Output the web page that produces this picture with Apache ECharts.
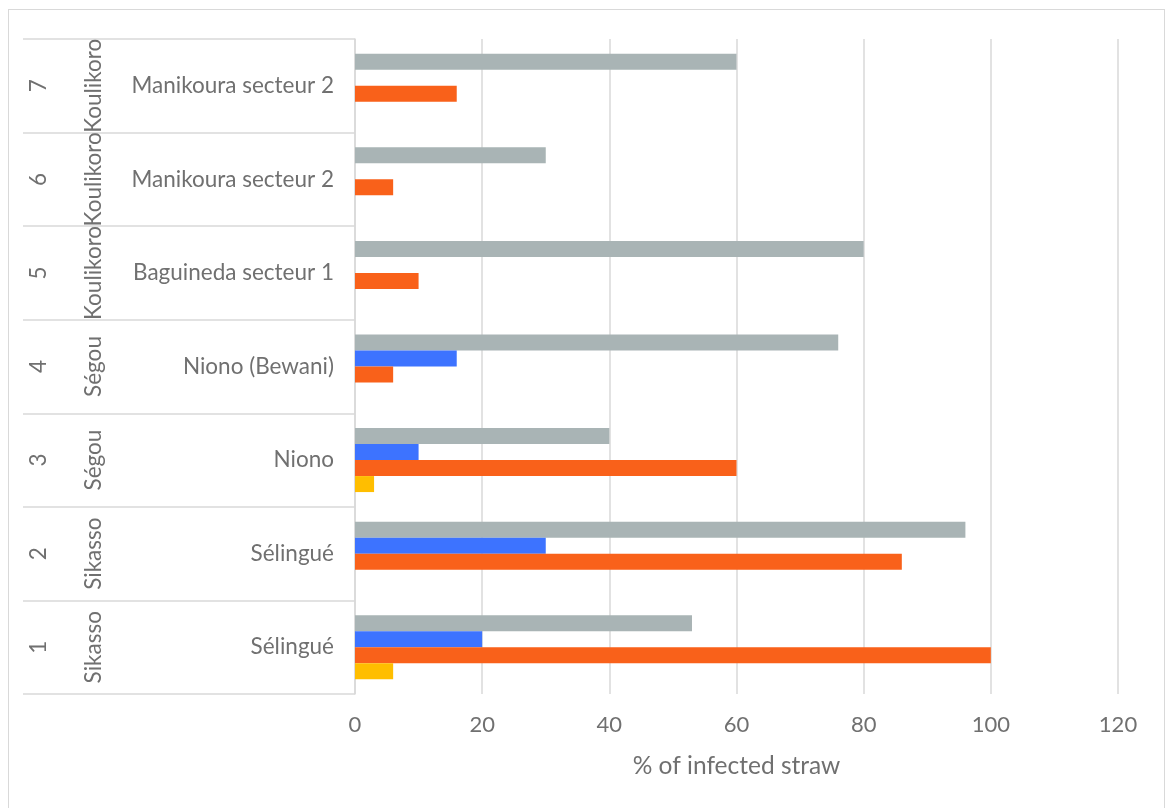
<!DOCTYPE html>
<html>
<head>
<meta charset="utf-8">
<script src="https://cdn.jsdelivr.net/npm/echarts@6/dist/echarts.min.js"></script>
<style>
html,body{margin:0;padding:0;background:#fff;}
#chart{position:absolute;left:0;top:0;width:1166px;height:808px;}
#frame{position:absolute;left:8px;top:9px;width:1157px;height:805px;border:1px solid #d9d9d9;box-sizing:border-box;pointer-events:none;}
</style>
</head>
<body>
<div id="chart"></div>
<div id="frame"></div>
<script>
const numbers = ['1','2','3','4','5','6','7'];
const regions = ['Sikasso','Sikasso','Ségou','Ségou','Koulikoro','Koulikoro','Koulikoro'];
const sites = ['Sélingué','Sélingué','Niono','Niono (Bewani)','Baguineda secteur 1','Manikoura secteur 2','Manikoura secteur 2'];
const grayValues = [53, 96, 40, 76, 80, 30, 60];
const blueValues = [20, 30, 10, 16, null, null, null];
const orangeValues = [100, 86, 60, 6, 10, 6, 16];
const yellowValues = [6, null, 3, null, null, null, null];
const xTicks = { min: 0, max: 120, interval: 20 };
const xTitle = '% of infected straw';

const FONT = 'Lato, "Open Sans", sans-serif';
const TXT = '#707070';
const LINE = '#d9d9d9';

const chart = echarts.init(document.getElementById('chart'), null, {renderer:'canvas'});
const option = {
  animation: false,
  backgroundColor: '#fff',
  textStyle: { fontFamily: FONT },
  grid: { left: 355, right: 48, top: 39, bottom: 114, containLabel: false },
  xAxis: {
    type: 'value', min: xTicks.min, max: xTicks.max, interval: xTicks.interval,
    axisLine: { show: false }, axisTick: { show: false },
    splitLine: { show: true, lineStyle: { color: LINE, width: 1.5 } },
    axisLabel: { color: TXT, fontSize: 22, fontFamily: FONT, margin: 20 },
    name: xTitle, nameLocation: 'middle', nameGap: 60,
    nameTextStyle: { color: TXT, fontSize: 24.5, fontFamily: FONT }
  },
  yAxis: [
    {
      type: 'category', data: sites, position: 'left',
      axisLine: { show: true, lineStyle: { color: LINE, width: 1.5 } },
      axisTick: { show: true, length: 332, lineStyle: { color: LINE, width: 1.5 } },
      axisLabel: { color: TXT, fontSize: 22.5, fontFamily: FONT, margin: 21, interval: 0 },
      splitLine: { show: false }
    },
    {
      type: 'category', data: regions, position: 'left', offset: 250,
      axisLine: { show: false }, axisTick: { show: false },
      axisLabel: { color: TXT, fontSize: 22.5, fontFamily: FONT, rotate: 90, margin: 0, interval: 0, hideOverlap: false }
    },
    {
      type: 'category', data: numbers, position: 'left', offset: 305,
      axisLine: { show: false }, axisTick: { show: false },
      axisLabel: { color: TXT, fontSize: 22.5, fontFamily: FONT, rotate: 90, margin: 0, interval: 0 }
    }
  ],
  series: [
    { name: 'gray', type: 'bar', data: grayValues, itemStyle: { color: '#A9B4B5' }, barGap: '0%', barCategoryGap: '31.6%' },
    { name: 'blue', type: 'bar', data: blueValues, itemStyle: { color: '#3D73FF' }, barGap: '0%', barCategoryGap: '31.6%' },
    { name: 'orange', type: 'bar', data: orangeValues, itemStyle: { color: '#F9611A' }, barGap: '0%', barCategoryGap: '31.6%' },
    { name: 'yellow', type: 'bar', data: yellowValues, itemStyle: { color: '#FFBE00' }, barGap: '0%', barCategoryGap: '31.6%' }
  ]
};
chart.setOption(option);
</script>
</body>
</html>
